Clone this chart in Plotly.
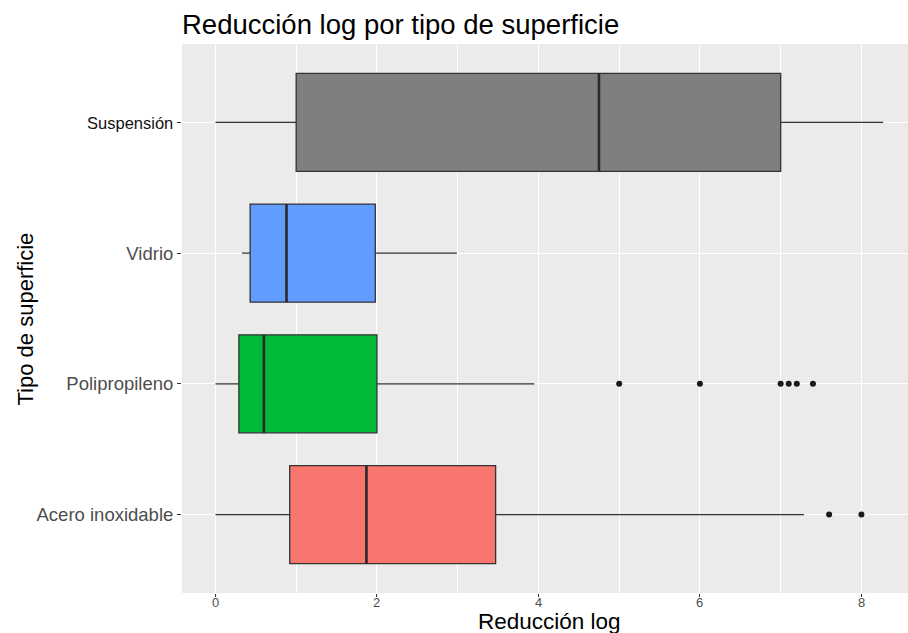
import plotly.graph_objects as go

categories = ["Acero inoxidable", "Polipropileno", "Vidrio", "Suspensión"]
positions = [1, 2, 3, 4]
colors = ["#F8766D", "#00BA38", "#619CFF", "#7F7F7F"]
lower = [0.0, 0.0, 0.33, 0.0]
q1 = [0.92, 0.29, 0.43, 1.0]
median = [1.87, 0.60, 0.88, 4.75]
q3 = [3.47, 2.0, 1.98, 7.0]
upper = [7.29, 3.95, 2.99, 8.27]
outliers = {
    "Acero inoxidable": [7.6, 8.0],
    "Polipropileno": [5.0, 6.0, 7.0, 7.1, 7.2, 7.4],
    "Vidrio": [],
    "Suspensión": [],
}
x_ticks = [0, 2, 4, 6, 8]
x_minor = [1, 3, 5, 7]
box_width = 0.75

FONT = "Liberation Sans, Arial, sans-serif"

fig = go.Figure()
for i, cat in enumerate(categories):
    fig.add_trace(go.Box(
        orientation="h",
        y=[positions[i]],
        q1=[q1[i]], median=[median[i]], q3=[q3[i]],
        lowerfence=[lower[i]], upperfence=[upper[i]],
        width=box_width,
        fillcolor=colors[i],
        line=dict(color="#333333", width=1.3),
        whiskerwidth=0,
        boxpoints=False,
        name=cat,
        showlegend=False,
        hoverinfo="skip",
    ))
    # thicker median line (ggplot fatten)
    fig.add_shape(type="line", xref="x", yref="y",
                  x0=median[i], x1=median[i],
                  y0=positions[i] - box_width / 2, y1=positions[i] + box_width / 2,
                  line=dict(color="#2a2a2a", width=2.6))
    if outliers[cat]:
        fig.add_trace(go.Scatter(
            x=outliers[cat], y=[positions[i]] * len(outliers[cat]),
            mode="markers",
            marker=dict(color="#1a1a1a", size=6),
            showlegend=False, hoverinfo="skip",
        ))

ticktext = []
for c in categories:
    if c == "Suspensión":
        ticktext.append('<span style="color:#111111;font-size:16.5px">Suspensión</span>')
    else:
        ticktext.append(c)

annotations = [
    dict(text="Reducción log", xref="paper", yref="paper",
         x=0.5, xshift=4, y=0, yshift=-28.5, xanchor="center", yanchor="middle",
         showarrow=False, font=dict(family=FONT, size=22.5, color="#000000")),
    dict(text="Tipo de superficie", xref="paper", yref="paper",
         x=0, xshift=-157, y=0.5, yshift=-1, xanchor="center", yanchor="middle",
         textangle=-90, showarrow=False,
         font=dict(family=FONT, size=22, color="#000000")),
]
# x tick labels placed tight under the panel (as in the reference)
for v in x_ticks:
    annotations.append(dict(text=str(v), xref="x", yref="paper", x=v, y=0,
                            yshift=-9, xanchor="center", yanchor="middle",
                            showarrow=False,
                            font=dict(family=FONT, size=13, color="#4D4D4D")))

fig.update_layout(
    width=908, height=633,
    margin=dict(l=182, r=0, t=44, b=40),
    paper_bgcolor="white",
    plot_bgcolor="#EBEBEB",
    font=dict(family=FONT, color="#4D4D4D"),
    title=dict(text="Reducción log por tipo de superficie",
               font=dict(family=FONT, size=27.5, color="#000000"),
               x=182 / 908, xanchor="left", xref="container",
               y=1 - 24 / 633, yanchor="middle", yref="container"),
    xaxis=dict(range=[-0.414, 8.577], tickvals=x_ticks,
               showticklabels=False,
               showgrid=True, gridcolor="white", gridwidth=1.3,
               zeroline=False, showline=False,
               ticks="outside", ticklen=3, tickcolor="#333333", tickwidth=1,
               minor=dict(tickvals=x_minor, showgrid=True, gridcolor="white",
                          gridwidth=0.6, ticks="")),
    yaxis=dict(range=[0.4, 4.6], tickvals=positions, ticktext=ticktext,
               showgrid=True, gridcolor="white", gridwidth=1.3,
               zeroline=False, showline=False,
               ticks="outside", ticklen=4, tickcolor="#333333", tickwidth=1,
               tickfont=dict(size=18.5, color="#4D4D4D")),
    annotations=annotations,
)

fig.write_html("out.html")
